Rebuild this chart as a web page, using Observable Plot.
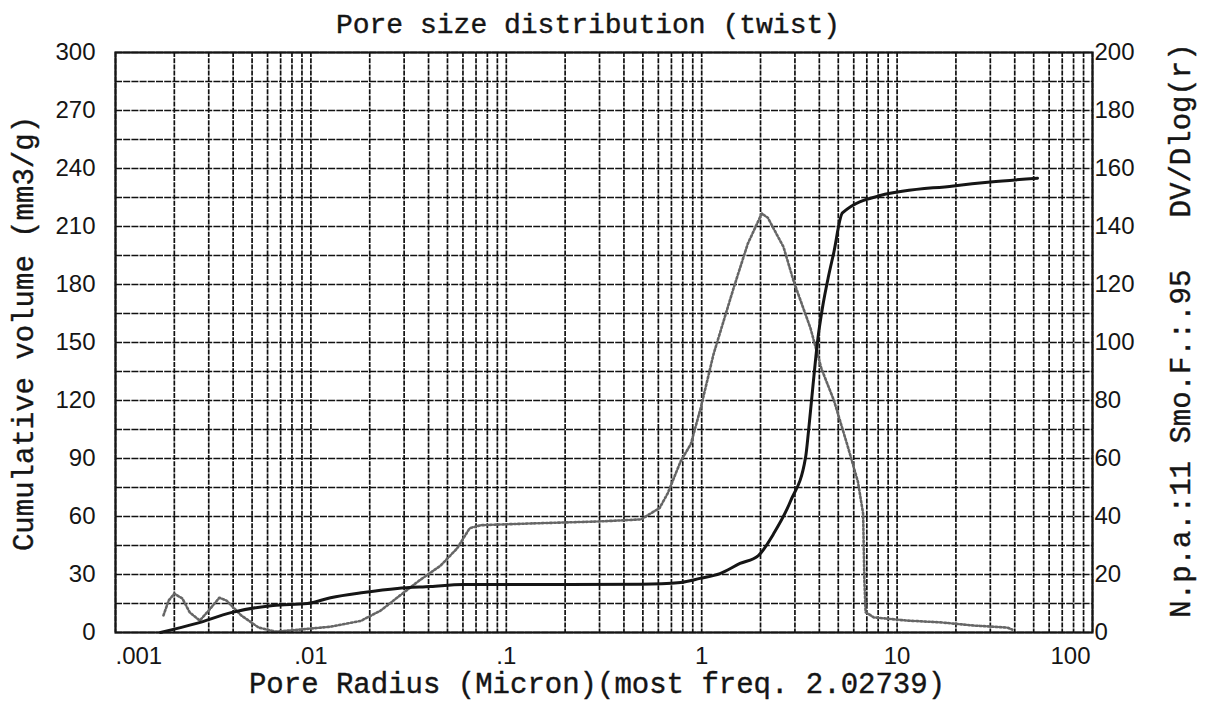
<!DOCTYPE html>
<html>
<head>
<meta charset="utf-8">
<script src="https://cdn.jsdelivr.net/npm/d3@7"></script>
<script src="https://cdn.jsdelivr.net/npm/@observablehq/plot@0.6"></script>
<style>
  html, body { margin: 0; padding: 0; background: #fff; }
  svg text { white-space: pre; }
</style>
</head>
<body>
<div id="chart"></div>
<script>
// ---- data ----
const cumRadius = [0.0017, 0.0026, 0.0039, 0.0064, 0.0096, 0.0126, 0.0186, 0.0277, 0.041, 0.060,
  0.133, 0.49, 0.78, 0.98, 1.24, 1.57, 1.95, 2.33, 2.85, 3.40,
  3.52, 3.73, 3.92, 4.15, 4.45, 4.73, 5.25, 8.2, 19.4, 30, 52.3];
const cumVolume = [0, 4.7, 10.3, 14, 15, 18, 20.7, 22.8, 23.8, 24.8,
  24.8, 25, 25.9, 28, 30.5, 35.7, 39.8, 51, 68, 90.5,
  104, 130, 151, 168, 184, 196, 217, 226, 231, 233, 235];

const dvRadius = [0.00176, 0.00187, 0.0020, 0.0022, 0.0024, 0.0027, 0.0030, 0.0034, 0.0037, 0.0044,
  0.0054, 0.0066, 0.0088, 0.0126, 0.018, 0.0228, 0.0286, 0.036, 0.046, 0.056,
  0.065, 0.074, 0.133, 0.30, 0.49, 0.61, 0.67, 0.78, 0.88, 0.99,
  1.15, 1.46, 1.72, 2.03, 2.18, 2.62, 2.96, 3.6, 4.1, 4.75,
  5.6, 6.3, 6.7, 6.8, 6.9, 7.6, 11.3, 16.7, 24.6, 36.7, 38.9];
const dvValue = [5.9, 11, 13.4, 11.7, 6.9, 4.1, 7.6, 12, 11, 5.9,
  1.7, 0.3, 1, 2, 4, 7.6, 12.8, 18, 23, 29,
  36, 37, 37.6, 38.3, 39, 43, 48, 59, 65, 77.6,
  96, 119, 134, 144.5, 143, 133, 121, 105, 91, 80,
  64, 52, 41, 18, 7, 5.2, 4.1, 3.5, 2.4, 1.7, 1.0];

const xTickValues = [0.001, 0.01, 0.1, 1, 10, 100];
const xTickLabels = [".001", ".01", ".1", "1", "10", "100"];
const leftTicks = [0, 30, 60, 90, 120, 150, 180, 210, 240, 270, 300];
const rightTicks = [0, 20, 40, 60, 80, 100, 120, 140, 160, 180, 200];

const titleText = "Pore size distribution (twist)";
const xLabel = "Pore Radius (Micron)(most freq. 2.02739)";
const yLeftLabel = "Cumulative volume (mm3/g)";
const yRightLabel = "N.p.a.:11 Smo.F.:.95   DV/Dlog(r)";

// right axis (0-200) shares the left scale (0-300)
const rightToLeft = 300 / 200;

// ---- derived tables ----
const cum = cumRadius.map((r, i) => ({r, v: cumVolume[i]}));
const dv = dvRadius.map((r, i) => ({r, v: dvValue[i]}));
const xGrid = [];
for (let k = -3; k <= 1; k++) for (let m = 1; m <= 9; m++) xGrid.push(m * Math.pow(10, k));
xGrid.push(100);
const yGrid = d3.range(0, 301, 15);
const xTicks = xTickValues.map((x, i) => ({x, label: xTickLabels[i]}));
const xMid = xTicks.slice(1, -1);

const mono = "'Liberation Mono', 'DejaVu Sans Mono', monospace";
const sans = "'Liberation Sans', Arial, sans-serif";
const ink = "#151515";

const chart = Plot.plot({
  width: 1206,
  height: 704,
  marginLeft: 115,
  marginRight: 114,
  marginTop: 52,
  marginBottom: 72,
  x: {type: "log", domain: [0.001, 100], axis: null},
  y: {domain: [0, 300], axis: null},
  style: {background: "#fff", color: ink},
  marks: [
    Plot.ruleX(xGrid, {stroke: "#111", strokeWidth: 1.7, strokeDasharray: "5,1.2"}),
    Plot.ruleY(yGrid, {stroke: "#111", strokeWidth: 1.7, strokeDasharray: "7,1.2"}),
    Plot.line(dv, {x: "r", y: d => d.v * rightToLeft, stroke: "#666", strokeWidth: 2.6, strokeDasharray: "1.8,2.2"}),
    Plot.line(cum, {x: "r", y: "v", stroke: ink, strokeWidth: 3, curve: "monotone-x"}),
    Plot.frame({stroke: ink, strokeWidth: 2.2}),
    // bottom tick labels
    Plot.text(xMid, {x: "x", text: "label", frameAnchor: "bottom", lineAnchor: "bottom", dy: 31,
      fontSize: 24, fontFamily: sans, letterSpacing: "1.8px", fill: ink}),
    Plot.text(xTicks.slice(0, 1), {x: "x", text: "label", frameAnchor: "bottom", lineAnchor: "bottom", dy: 31,
      textAnchor: "start", dx: 0, fontSize: 24, fontFamily: sans, letterSpacing: "1.8px", fill: ink}),
    Plot.text(xTicks.slice(-1), {x: "x", text: "label", frameAnchor: "bottom", lineAnchor: "bottom", dy: 31,
      textAnchor: "end", dx: -2, fontSize: 24, fontFamily: sans, letterSpacing: "1.8px", fill: ink}),
    // left tick labels
    Plot.text(leftTicks, {y: d => d, text: d => String(d), frameAnchor: "left", textAnchor: "end", dx: -20,
      lineAnchor: "middle", fontSize: 24, fontFamily: sans, letterSpacing: "1.8px", fill: ink}),
    // right tick labels
    Plot.text(rightTicks, {y: d => d * rightToLeft, text: d => String(d), frameAnchor: "right", textAnchor: "start", dx: 2,
      lineAnchor: "middle", fontSize: 24, fontFamily: sans, letterSpacing: "1.8px", fill: ink}),
    // title and axis labels
    Plot.text([titleText], {text: d => d, frameAnchor: "top", textAnchor: "middle", lineAnchor: "bottom", dy: -20, dx: -16,
      fontSize: 28, fontFamily: mono, fill: ink, stroke: ink, strokeWidth: 0.4}),
    Plot.text([xLabel], {text: d => d, frameAnchor: "bottom", textAnchor: "middle", lineAnchor: "bottom", dy: 60, dx: -7,
      fontSize: 29, fontFamily: mono, fill: ink, stroke: ink, strokeWidth: 0.4}),
    Plot.text([yLeftLabel], {text: d => d, frameAnchor: "left", textAnchor: "middle", rotate: -90, lineAnchor: "middle", dx: -92, dy: -9,
      fontSize: 29, fontFamily: mono, fill: ink, stroke: ink, strokeWidth: 0.4}),
    Plot.text([yRightLabel], {text: d => d, frameAnchor: "right", textAnchor: "middle", rotate: -90, lineAnchor: "middle", dx: 88, dy: -12,
      fontSize: 29, fontFamily: mono, fill: ink, stroke: ink, strokeWidth: 0.4})
  ]
});
document.getElementById("chart").appendChild(chart);
</script>
</body>
</html>
